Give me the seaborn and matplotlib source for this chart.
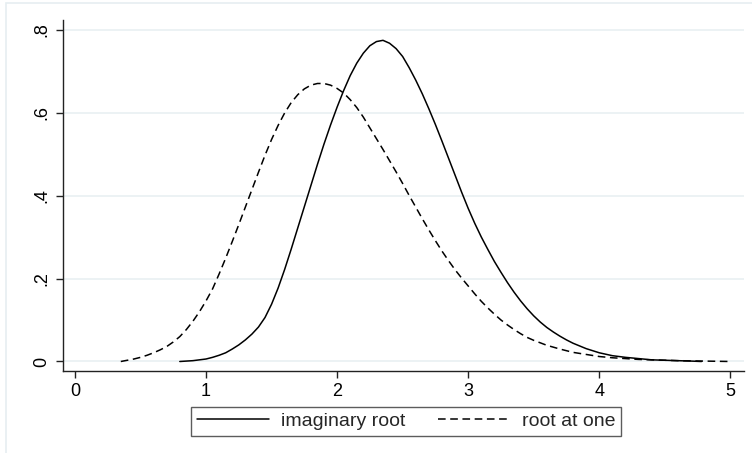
import numpy as np
import pandas as pd
import matplotlib
matplotlib.use("Agg")
import matplotlib.pyplot as plt
from matplotlib.patches import Rectangle
from matplotlib.lines import Line2D
import seaborn as sns

# ---- data ----
x_imag = [0.80, 0.85, 0.90, 0.95, 1.00, 1.05, 1.10, 1.15, 1.20, 1.25, 1.30, 1.35, 1.40,
          1.45, 1.50, 1.55, 1.60, 1.65, 1.70, 1.75, 1.80, 1.85, 1.90, 1.95, 2.00, 2.05,
          2.10, 2.15, 2.20, 2.25, 2.30, 2.35, 2.40, 2.45, 2.50, 2.55, 2.60, 2.65, 2.70,
          2.75, 2.80, 2.85, 2.90, 2.95, 3.00, 3.05, 3.10, 3.15, 3.20, 3.25, 3.30, 3.35,
          3.40, 3.45, 3.50, 3.55, 3.60, 3.65, 3.70, 3.75, 3.80, 3.90, 4.00, 4.10, 4.20,
          4.30, 4.40, 4.50, 4.60, 4.70, 4.78]
y_imag = [0.000, 0.001, 0.002, 0.004, 0.006, 0.010, 0.015, 0.021, 0.030, 0.040, 0.052,
          0.066, 0.083, 0.106, 0.138, 0.177, 0.222, 0.271, 0.322, 0.373, 0.424, 0.475,
          0.524, 0.570, 0.613, 0.653, 0.689, 0.719, 0.743, 0.761, 0.771, 0.774, 0.767,
          0.754, 0.735, 0.708, 0.678, 0.645, 0.609, 0.571, 0.531, 0.490, 0.449, 0.408,
          0.369, 0.333, 0.300, 0.270, 0.241, 0.215, 0.190, 0.167, 0.146, 0.127, 0.110,
          0.095, 0.082, 0.071, 0.061, 0.052, 0.044, 0.031, 0.021, 0.014, 0.010, 0.007,
          0.004, 0.003, 0.002, 0.001, 0.000]

x_one = [0.35, 0.40, 0.45, 0.50, 0.55, 0.60, 0.65, 0.70, 0.75, 0.80, 0.85, 0.90, 0.95,
         1.00, 1.05, 1.10, 1.15, 1.20, 1.25, 1.30, 1.35, 1.40, 1.45, 1.50, 1.55, 1.60,
         1.65, 1.70, 1.75, 1.80, 1.85, 1.90, 1.95, 2.00, 2.05, 2.10, 2.15, 2.20, 2.25,
         2.30, 2.35, 2.40, 2.45, 2.50, 2.55, 2.60, 2.65, 2.70, 2.75, 2.80, 2.85, 2.90,
         2.95, 3.00, 3.05, 3.10, 3.15, 3.20, 3.25, 3.30, 3.35, 3.40, 3.45, 3.50, 3.60,
         3.70, 3.80, 3.90, 4.00, 4.10, 4.20, 4.30, 4.40, 4.50, 4.60, 4.80, 5.00]
y_one = [0.000, 0.003, 0.006, 0.010, 0.015, 0.021, 0.028, 0.036, 0.047, 0.060, 0.077,
         0.097, 0.120, 0.146, 0.175, 0.211, 0.249, 0.289, 0.330, 0.372, 0.414, 0.456,
         0.497, 0.535, 0.569, 0.599, 0.624, 0.643, 0.657, 0.666, 0.670, 0.670, 0.666,
         0.658, 0.647, 0.631, 0.612, 0.589, 0.563, 0.537, 0.511, 0.484, 0.457, 0.429,
         0.400, 0.372, 0.344, 0.317, 0.291, 0.266, 0.243, 0.221, 0.201, 0.182, 0.163,
         0.145, 0.129, 0.114, 0.100, 0.088, 0.077, 0.067, 0.058, 0.051, 0.039, 0.030,
         0.022, 0.017, 0.012, 0.009, 0.007, 0.005, 0.004, 0.003, 0.002, 0.001, 0.000]

series_names = ["imaginary root", "root at one"]
x_ticks = [0, 1, 2, 3, 4, 5]
x_ticklabels = ["0", "1", "2", "3", "4", "5"]
y_ticks = [0, 0.2, 0.4, 0.6, 0.8]
y_ticklabels = ["0", ".2", ".4", ".6", ".8"]

df = pd.concat([
    pd.DataFrame({"x": x_imag, "y": y_imag, "series": series_names[0]}),
    pd.DataFrame({"x": x_one, "y": y_one, "series": series_names[1]}),
], ignore_index=True)

sns.set_theme(style="white")
plt.rcParams["font.family"] = ["Liberation Sans", "DejaVu Sans"]

W, H = 752, 453
fig = plt.figure(figsize=(W / 100, H / 100), dpi=100)
fig.patch.set_facecolor("white")
fig.add_artist(Rectangle((6 / W, -0.01), 1.0, (H - 3) / H + 0.01, transform=fig.transFigure,
                         facecolor="none", edgecolor="#e6eef1", linewidth=1.2))

left, right, bottom, top = 63, 744, 371, 20
ax = fig.add_axes([left / W, 1 - bottom / H, (right - left) / W, (bottom - top) / H])

sns.lineplot(data=df, x="x", y="y", hue="series", style="series",
             palette=["black", "black"], dashes=["", (5, 3)],
             linewidth=1.1, sort=False, legend=False, ax=ax)

ax.set_xlim(-0.091, 5.104)
ax.set_ylim(-0.0229, 0.823)
ax.set_xticks(x_ticks)
ax.set_xticklabels(x_ticklabels)
ax.set_yticks(y_ticks)
ax.set_yticklabels(y_ticklabels, rotation=90, va="center")
ax.set_xlabel("")
ax.set_ylabel("")
ax.grid(axis="y", color="#e9f0f2", linewidth=1.2)
ax.grid(axis="x", visible=False)
for s in ["top", "right"]:
    ax.spines[s].set_visible(False)
for s in ["left", "bottom"]:
    ax.spines[s].set_color("#222222")
    ax.spines[s].set_linewidth(1.0)
ax.tick_params(axis="both", which="major", direction="out", length=5, width=1.0,
               color="#222222", labelsize=13, labelcolor="black", pad=4,
               left=True, bottom=True)

handles = [Line2D([0], [0], color="black", lw=1.1),
           Line2D([0], [0], color="black", lw=1.1, dashes=(5, 3))]
leg = fig.legend(handles, series_names, loc="center", ncol=2,
                 bbox_to_anchor=(406 / W, 1 - 421.4 / H), frameon=True, fancybox=False,
                 edgecolor="#333333", fontsize=14, handlelength=3.7, handletextpad=0.6,
                 columnspacing=1.7, borderpad=0.3, borderaxespad=0.0)
leg.get_frame().set_linewidth(1.0)

fig.savefig("out.png", dpi=100)
